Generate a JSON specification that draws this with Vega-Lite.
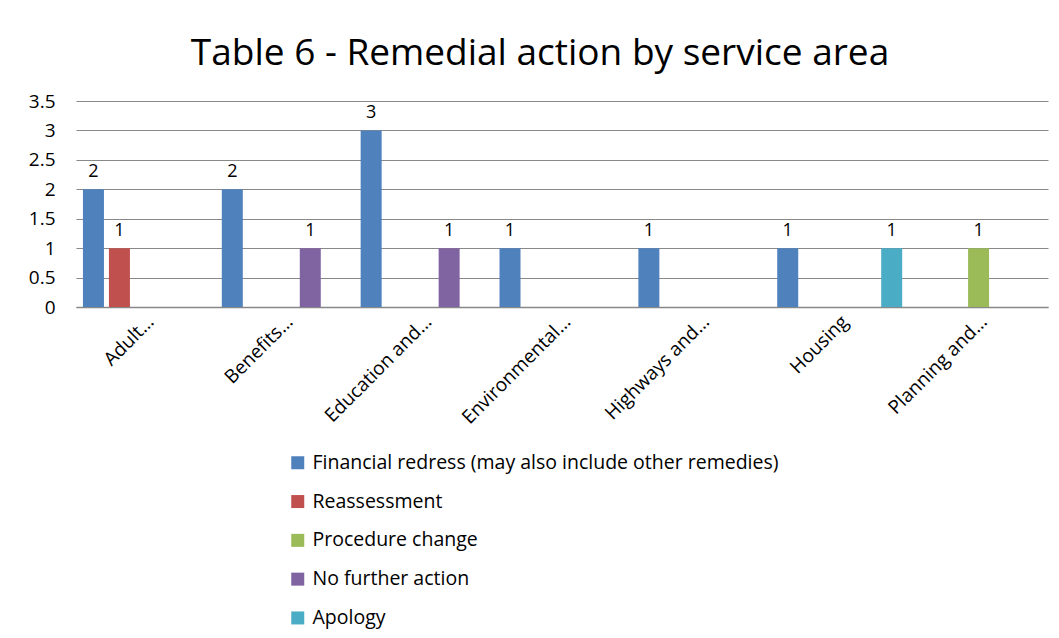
{
  "$schema": "https://vega.github.io/schema/vega-lite/v6.json",
  "width": 972,
  "height": 206,
  "autosize": {"type": "none"},
  "padding": {"left": 76, "top": 101, "right": 11, "bottom": 331},
  "background": "white",
  "title": {
    "text": "Table 6 - Remedial action by service area",
    "font": "Open Sans",
    "fontSize": 37,
    "fontWeight": "normal",
    "color": "black",
    "anchor": "middle",
    "dx": -22,
    "offset": 19
  },
  "data": {
    "values": [
      {"area": "Adult…", "action": "Financial redress (may also include other remedies)", "count": 2},
      {"area": "Adult…", "action": "Reassessment", "count": 1},
      {"area": "Benefits…", "action": "Financial redress (may also include other remedies)", "count": 2},
      {"area": "Benefits…", "action": "No further action", "count": 1},
      {"area": "Education and…", "action": "Financial redress (may also include other remedies)", "count": 3},
      {"area": "Education and…", "action": "No further action", "count": 1},
      {"area": "Environmental…", "action": "Financial redress (may also include other remedies)", "count": 1},
      {"area": "Highways and…", "action": "Financial redress (may also include other remedies)", "count": 1},
      {"area": "Housing", "action": "Financial redress (may also include other remedies)", "count": 1},
      {"area": "Housing", "action": "Apology", "count": 1},
      {"area": "Planning and…", "action": "Procedure change", "count": 1}
    ]
  },
  "encoding": {
    "x": {
      "field": "area",
      "type": "nominal",
      "sort": ["Adult…", "Benefits…", "Education and…", "Environmental…", "Highways and…", "Housing", "Planning and…"],
      "scale": {"paddingInner": 0, "paddingOuter": 0},
      "axis": {
        "title": null,
        "labelAngle": -45,
        "labelFont": "Open Sans",
        "labelFontSize": 19,
        "labelColor": "black",
        "labelOffset": -1,
        "labelPadding": 5,
        "ticks": false,
        "grid": false,
        "domain": true,
        "domainColor": "#888888",
        "domainWidth": 1.5
      }
    },
    "xOffset": {
      "field": "action",
      "type": "nominal",
      "scale": {
        "domain": ["Financial redress (may also include other remedies)", "Reassessment", "Procedure change", "No further action", "Apology"],
        "paddingInner": 0.192,
        "paddingOuter": 0.267
      }
    },
    "y": {
      "field": "count",
      "type": "quantitative",
      "scale": {"domain": [0, 3.5]},
      "axis": {
        "title": null,
        "values": [0, 0.5, 1, 1.5, 2, 2.5, 3, 3.5],
        "format": "~g",
        "labelFont": "Open Sans",
        "labelFontSize": 19,
        "labelColor": "black",
        "labelPadding": 21,
        "ticks": false,
        "domain": false,
        "gridColor": "#888888",
        "gridWidth": 1.2
      }
    }
  },
  "layer": [
    {
      "mark": {"type": "bar"},
      "encoding": {
        "color": {
          "field": "action",
          "type": "nominal",
          "scale": {
            "domain": ["Financial redress (may also include other remedies)", "Reassessment", "Procedure change", "No further action", "Apology"],
            "range": ["#4F81BD", "#C0504D", "#9BBB59", "#8064A2", "#4BACC6"]
          },
          "legend": {
            "title": null,
            "orient": "none",
            "legendX": 212,
            "legendY": 352,
            "direction": "vertical",
            "symbolType": "square",
            "symbolSize": 169,
            "symbolStrokeWidth": 0,
            "labelFont": "Open Sans",
            "labelFontSize": 19.5,
            "labelColor": "black",
            "labelLimit": 700,
            "labelOffset": 5,
            "rowPadding": 17.8
          }
        }
      }
    },
    {
      "mark": {"type": "text", "baseline": "bottom", "dy": -8, "font": "Open Sans", "fontSize": 18, "color": "black"},
      "encoding": {"text": {"field": "count", "type": "quantitative"}}
    }
  ],
  "config": {"view": {"stroke": null}}
}
